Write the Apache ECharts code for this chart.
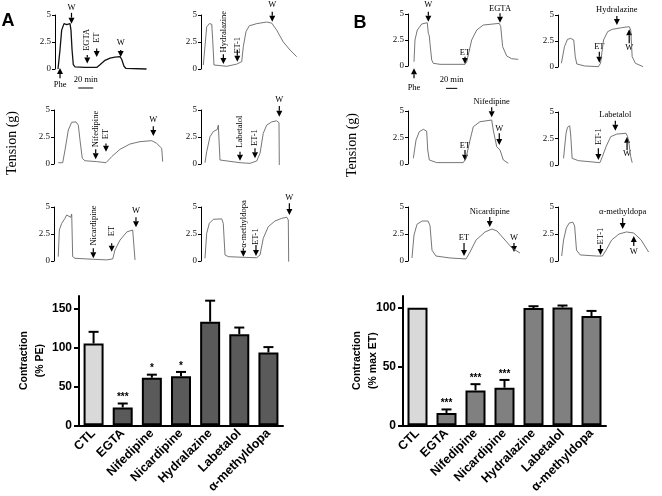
<!DOCTYPE html>
<html><head><meta charset="utf-8">
<script src="https://cdn.jsdelivr.net/npm/echarts@6/dist/echarts.min.js"></script>
<style>html,body{margin:0;padding:0;background:#fff}#c{width:662px;height:496px}</style>
</head><body><div id="c"></div>
<script>
// ---------- Tracings: [time (min), tension (g)] ----------
const traceA1 = [[4,0],[6.7,1.8],[8.9,3.6],[12,4.2],[15.6,4.1],[17.7,4.0],[20,4.2],[21.3,3.6],[22.7,1.8],[24.4,0.4],[26.7,0.2],[40,0.15],[55.6,0.15],[60,0.4],[66.7,0.8],[73.3,1.0],[80,1.1],[86.7,1.15],[88.9,0.9],[92,0.25],[94.7,0.05],[122,0]];
const traceA2 = [[3.1,0.37],[7.6,3.9],[11.1,4.2],[14.3,4.15],[15.6,2.7],[17.3,0.37],[18.7,0.25],[34.3,0.25],[47.6,0.45],[54.3,0.68],[56.4,2.07],[60,3.46],[64.4,4.0],[74.3,4.2],[87.6,4.35],[94.3,4.25],[100.9,3.6],[109.7,2.5],[118.7,1.76],[127.6,1.14]];
const traceA3 = [[5.7,0.12],[11.6,0.12],[14.7,1.3],[19.1,3.15],[23.6,3.86],[29.3,3.9],[32.4,3.6],[34.7,2.2],[37.7,0.52],[41.3,0.3],[56.9,0.22],[69.3,0.12],[76.9,0.68],[88,1.36],[101.3,1.85],[114.7,2.07],[130.3,2.16],[136.9,1.91],[143.6,1.45],[144.9,0.22]];
const traceA4 = [[5.3,0.12],[7.6,1.14],[12,2.53],[16.4,3.0],[21.7,3.2],[23.1,3.6],[25.3,0.37],[27.6,0.22],[52,0.12],[65.3,0.06],[74.3,0.28],[78.7,0.99],[83,2.84],[87.6,3.6],[94.3,3.9],[100.9,4.0],[104,3.82],[104.4,-0.09]];
const traceA5 = [[5.7,0.4],[7.1,2.87],[10.3,3.49],[14.7,3.95],[16.9,4.26],[19.1,4.1],[22.3,4.05],[23.6,4.35],[24.9,0.4],[28,0.25],[52.4,0.16],[70.3,0.1],[78.3,0.19],[81.3,1.02],[88,1.94],[97.3,2.7],[104.9,2.87],[107,2.7],[108,0.1]];
const traceA6 = [[5.3,0.25],[7.6,2.56],[11.1,3.49],[16.4,3.86],[27.6,3.9],[29.7,3.49],[32,0.56],[36.4,0.4],[56.4,0.34],[74.3,0.3],[78.7,0.56],[83,2.1],[89.7,3.18],[98.6,3.7],[107.6,3.95],[114.3,4.05],[116.4,3.8],[116.9,-0.06]];
const traceB1 = [[8,0.41],[9.3,2.5],[12.4,3.46],[18.3,4.04],[25.7,4.16],[27.1,3.14],[28.4,2.9],[29.3,2.18],[31.6,0.58],[33.7,0.26],[42.7,0.16],[76,0.16],[78.3,0.41],[84.9,2.5],[91.6,3.46],[100.4,3.94],[121.7,4.1],[123.6,3.8],[126.2,1.86],[131.6,0.96],[138.2,0.7],[147,0.64]];
const traceB2 = [[4.9,0.36],[9.3,1.95],[13.7,2.66],[18.3,2.75],[22.7,2.6],[24.9,0.99],[27.1,0.29],[38.3,0.1],[58.3,0.03],[61.3,0.36],[65.7,2.6],[71.6,3.4],[78.3,3.62],[91.6,3.78],[102.7,3.88],[104.9,3.56],[107,0.99],[111.6,0.36],[122.7,0.03]];
const traceB3 = [[7.1,0.54],[10.7,2.26],[15.1,3.05],[20.4,3.27],[24.9,3.1],[26.3,1.32],[28.4,0.38],[38.3,0.13],[73.7,0.13],[77.3,0.54],[82.7,2.26],[87.1,3.52],[96,3.99],[111.6,4.15],[113.7,3.2],[118.3,1.63],[122.7,1.32],[127.1,0.38],[133.7,0.07]];
const traceB4 = [[8,0.63],[11.6,2.99],[13.7,3.56],[16.9,3.7],[18.3,2.83],[20.4,0.63],[29.3,0.41],[60.4,0.22],[64,0.78],[69.3,1.73],[76,2.67],[84.9,2.92],[98.2,2.99],[100.4,2.67],[102.7,1.89],[104.9,0.78],[107,0.22]];
const traceB5 = [[5.3,0.28],[8,2.4],[12,3.4],[18.7,3.7],[26.7,3.7],[29.3,3.3],[32,1.0],[37.3,0.46],[56,0.28],[77.3,0.19],[82.7,0.83],[90.7,1.94],[102.7,2.69],[112,2.96],[118.7,2.78],[129.3,1.94],[138.7,1.2],[149.3,0.74]];
const traceB6 = [[5.3,0.46],[8,1.94],[12,3.05],[16,3.5],[21.3,3.6],[24,3.24],[26.7,1.0],[32,0.56],[56,0.46],[64,0.46],[69.3,1.0],[77.3,1.94],[88,2.5],[98.7,2.69],[109.3,2.59],[120,1.94],[130.7,0.83]];

// ---------- Annotations: [text, time, arrow from (g), arrow to (g), label at (g), vertical text] ----------
const annA1 = [['Phe',6.7,-0.85,0.1,-1.5,0],['W',22,5.2,4.2,5.65,0],['EGTA',43,1.3,0.5,2.7,1],['ET',55.6,1.9,1.1,2.9,1],['W',87.6,1.76,1.1,2.4,0]];
const annA2 = [['Hydralazine',29.8,1.36,0.46,3.46,1],['ET-1',48.4,1.76,0.68,2.2,1],['W',95,5.3,4.38,5.93,0]];
const annA3 = [['Nifedipine',55.6,1.36,0.43,3.24,1],['ET',69.3,1.9,1.14,2.78,1],['W',132.4,3.5,2.6,4.07,0]];
const annA4 = [['Labetalol',52,1.14,0.31,3.0,1],['ET-1',72,1.45,0.53,2.45,1],['W',104.4,5.37,4.38,5.99,0]];
const annA5 = [['Nicardipine',52.4,1.18,0.25,3.29,1],['ET',76.9,1.64,0.86,2.78,1],['W',109.3,4.05,3.12,4.66,0]];
const annA6 = [['α-methyldopa',56.4,1.18,0.4,3.43,1],['ET-1',73.3,1.48,0.46,2.25,1],['W',117.8,5.34,4.26,5.9,0]];
const annB1 = [['Phe',8,-1.18,-0.22,-2.05,0],['W',27.1,5.22,4.26,5.87,0],['ET',76,0.9,0.19,1.3,0],['EGTA',122.7,5.07,4.16,5.55,0]];
const annB2 = [['Hydralazine',84.9,4.9,4.04,5.48,0],['ET',59.6,1.47,0.41,1.95,0],['W',102.7,2.28,3.62,1.85,0]];
const annB3 = [['Nifedipine',111.6,5.35,4.4,5.88,0],['ET',76,1.32,0.31,1.75,0],['W',121.7,2.9,1.79,3.37,0]];
const annB4 = [['ET-1',58.2,1.58,0.47,2.67,1],['Labetalol',82.7,4.18,3.24,4.72,0],['W',99.6,1.42,2.67,1.1,0]];
const annB5 = [['Nicardipine',109,4.07,3.15,4.55,0],['ET',74.7,1.67,0.46,2.13,0],['W',141.3,1.67,0.83,2.13,0]];
const annB6 = [['ET-1',61.3,1.48,0.56,2.31,1],['α-methyldopa',93.3,3.98,2.96,4.54,0],['W',109.3,1.39,2.31,0.83,0]];

// scale bars: [t start, t end, g of bar, g of label, text]
const scaleA1 = [31,51,-1.76,-1.0,'20 min'];
const scaleB1 = [50.7,65.7,-2.15,-1.35,'20 min'];

// ---------- Bar charts ----------
const categories = ['CTL','EGTA','Nifedipine','Nicardipine','Hydralazine','Labetalol','α-methyldopa'];
const barA = [105, 23, 61, 63, 133, 117, 93.5];
const errA = [120, 28, 65, 68.5, 160, 125.5, 100.4];
const starsA = ['', '***', '*', '*', '', '', ''];
const barB = [100, 10.5, 29.7, 32, 99.7, 100.3, 93];
const errB = [100, 13.5, 35, 38.6, 101.3, 101.9, 97.3];
const starsB = ['', '***', '***', '***', '', '', ''];
const ticksA = [0, 50, 100, 150];
const ticksB = [0, 50, 100];

// ---------- layout ----------
const SERIF = '"Liberation Serif", "DejaVu Serif", serif';
const SANS = '"Liberation Sans", Arial, sans-serif';
const panels = [
  {data: traceA1, ann: annA1, box: [55, 15, 54], color: '#111', lw: 1.3, scale: scaleA1},
  {data: traceA2, ann: annA2, box: [201, 15, 54], color: '#666', lw: 0.9},
  {data: traceA3, ann: annA3, box: [54, 110, 54], color: '#666', lw: 0.9},
  {data: traceA4, ann: annA4, box: [201, 110, 54], color: '#666', lw: 0.9},
  {data: traceA5, ann: annA5, box: [54, 207, 54], color: '#666', lw: 0.9},
  {data: traceA6, ann: annA6, box: [201, 207, 54], color: '#666', lw: 0.9},
  {data: traceB1, ann: annB1, box: [408, 14, 52], color: '#666', lw: 0.9, scale: scaleB1},
  {data: traceB2, ann: annB2, box: [558, 15, 52], color: '#666', lw: 0.9},
  {data: traceB3, ann: annB3, box: [408, 111, 53], color: '#666', lw: 0.9},
  {data: traceB4, ann: annB4, box: [558, 112, 53], color: '#666', lw: 0.9},
  {data: traceB5, ann: annB5, box: [408, 207, 54], color: '#666', lw: 0.9},
  {data: traceB6, ann: annB6, box: [558, 207, 54], color: '#666', lw: 0.9}
];

function annRender(list) {
  return function (params, api) {
    const a = list[params.dataIndex];
    const p1 = api.coord([a[1], a[2]]);
    const p2 = api.coord([a[1], a[3]]);
    const dir = p2[1] > p1[1] ? 1 : -1;
    const head = 6, hw = 3;
    const pl = api.coord([a[1], a[4]]);
    return {type: 'group', children: [
      {type: 'line', shape: {x1: p1[0], y1: p1[1], x2: p2[0], y2: p2[1] - dir * head}, style: {stroke: '#000', lineWidth: 1.2}},
      {type: 'polygon', shape: {points: [[p2[0], p2[1]], [p2[0] - hw, p2[1] - dir * head], [p2[0] + hw, p2[1] - dir * head]]}, style: {fill: '#000'}},
      {type: 'text', x: pl[0], y: pl[1], rotation: a[5] ? Math.PI / 2 : 0,
        style: {text: a[0], fill: '#000', font: '8.5px ' + SERIF, align: 'center', verticalAlign: 'middle'}}
    ]};
  };
}
function scaleRender(s) {
  return function (params, api) {
    const p1 = api.coord([s[0], s[2]]), p2 = api.coord([s[1], s[2]]);
    const pl = api.coord([(s[0] + s[1]) / 2, s[3]]);
    return {type: 'group', children: [
      {type: 'line', shape: {x1: p1[0], y1: p1[1], x2: p2[0], y2: p2[1]}, style: {stroke: '#000', lineWidth: 1}},
      {type: 'text', x: pl[0], y: pl[1], style: {text: s[4], fill: '#000', font: '8.5px ' + SERIF, align: 'center', verticalAlign: 'middle'}}
    ]};
  };
}
function errRender(err, stars) {
  return function (params, api) {
    const i = params.dataIndex;
    const base = api.coord([i, api.value(1)]);
    const top = api.coord([i, api.value(2)]);
    const ch = [];
    if (api.value(2) > api.value(1)) {
      ch.push({type: 'line', shape: {x1: base[0], y1: base[1], x2: top[0], y2: top[1]}, style: {stroke: '#000', lineWidth: 2}});
      ch.push({type: 'line', shape: {x1: top[0] - 5, y1: top[1], x2: top[0] + 5, y2: top[1]}, style: {stroke: '#000', lineWidth: 2}});
    }
    if (stars[i]) ch.push({type: 'text', x: top[0], y: top[1] - 1,
      style: {text: stars[i], fill: '#000', font: 'bold 10px ' + SANS, align: 'center', verticalAlign: 'bottom'}});
    return {type: 'group', children: ch};
  };
}

const grid = [], xAxis = [], yAxis = [], series = [];
const XMAX = 150, PXPERMIN = 0.75;
panels.forEach((p, k) => {
  grid.push({left: p.box[0], top: p.box[1], height: p.box[2], width: XMAX * PXPERMIN});
  xAxis.push({type: 'value', gridIndex: k, min: 0, max: XMAX, show: false});
  yAxis.push({type: 'value', gridIndex: k, min: 0, max: 5, interval: 2.5,
    axisLine: {show: true, lineStyle: {color: '#000', width: 1}},
    axisTick: {show: true, length: 3, lineStyle: {color: '#000'}},
    axisLabel: {fontSize: 9, fontFamily: SERIF, color: '#111', margin: 4},
    splitLine: {show: false}});
  series.push({type: 'line', xAxisIndex: k, yAxisIndex: k, data: p.data, showSymbol: false, clip: false,
    lineStyle: {color: p.color, width: p.lw}, silent: true, animation: false});
  series.push({type: 'custom', xAxisIndex: k, yAxisIndex: k, data: p.ann.map(a => [a[1], a[2]]),
    encode: {x: 0, y: 1}, renderItem: annRender(p.ann), silent: true, animation: false});
  if (p.scale) series.push({type: 'custom', xAxisIndex: k, yAxisIndex: k, data: [[p.scale[0], p.scale[2]]],
    encode: {x: 0, y: 1}, renderItem: scaleRender(p.scale), silent: true, animation: false});
});

function addBar(left, width, max, vals, errs, stars, ticks, color, name, gap, moveOverlap) {
  const k = grid.length;
  grid.push({left: left, top: 296, width: width, height: 136});
  xAxis.push({type: 'category', gridIndex: k, data: categories,
    axisLine: {lineStyle: {color: '#000', width: 2}}, axisTick: {show: false},
    axisLabel: {rotate: 45, interval: 0, fontSize: 12.5, fontWeight: 'bold', fontFamily: SANS, color: '#000', margin: 6}});
  yAxis.push({type: 'value', gridIndex: k, min: 0, max: max,
    axisLine: {show: true, lineStyle: {color: '#000', width: 2}},
    axisTick: {show: true, length: 5, lineStyle: {color: '#000', width: 2}, customValues: ticks},
    axisLabel: {fontSize: 12, fontWeight: 'bold', fontFamily: SANS, color: '#000', margin: 7, customValues: ticks},
    splitLine: {show: false},
    name: name, nameLocation: 'middle', nameRotate: 90, nameGap: gap, nameMoveOverlap: moveOverlap,
    nameTextStyle: {fontSize: 10.5, fontWeight: 'bold', fontFamily: SANS, color: '#000', lineHeight: 16}});
  series.push({type: 'bar', xAxisIndex: k, yAxisIndex: k, barWidth: 20, animation: false,
    data: vals.map((v, i) => ({value: v, itemStyle: {color: i === 0 ? '#d9d9d9' : color}})),
    itemStyle: {borderColor: '#000', borderWidth: 2}});
  series.push({type: 'custom', xAxisIndex: k, yAxisIndex: k, animation: false, silent: true,
    data: vals.map((v, i) => [i, v, errs[i]]), encode: {x: 0, y: [1, 2]}, renderItem: errRender(errs, stars), z: 3});
}
addBar(79, 204, 166, barA, errA, starsA, ticksA, '#5a5a5a', 'Contraction\n(% PE)', 30, true);
addBar(403, 203, 110, barB, errB, starsB, ticksB, '#808080', 'Contraction\n(% max ET)', 22, false);

const chart = echarts.init(document.getElementById('c'), null, {renderer: 'canvas'});
chart.setOption({
  animation: false,
  backgroundColor: '#fff',
  grid, xAxis, yAxis, series,
  graphic: [
    {type: 'text', x: 8, y: 21, style: {text: 'A', font: 'bold 18px ' + SANS, fill: '#000', align: 'center', verticalAlign: 'middle'}},
    {type: 'text', x: 360, y: 23, style: {text: 'B', font: 'bold 18px ' + SANS, fill: '#000', align: 'center', verticalAlign: 'middle'}},
    {type: 'text', x: 12, y: 143, rotation: Math.PI / 2, style: {text: 'Tension (g)', font: '14px ' + SERIF, fill: '#000', align: 'center', verticalAlign: 'middle'}},
    {type: 'text', x: 352, y: 145, rotation: Math.PI / 2, style: {text: 'Tension (g)', font: '14px ' + SERIF, fill: '#000', align: 'center', verticalAlign: 'middle'}}
  ]
});
</script></body></html>
